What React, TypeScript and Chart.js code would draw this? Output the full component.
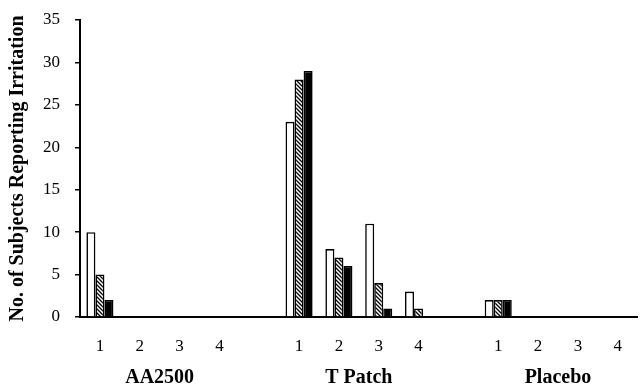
import React, { useEffect, useRef } from "react";
import { Chart, registerables } from "chart.js";

Chart.register(...registerables);

const groups = ["AA2500", "T Patch", "Placebo"];
const tickLabels = ["1", "2", "3", "4", "", "1", "2", "3", "4", "", "1", "2", "3", "4"];
const groupStarts = [0, 5, 10];
const seriesWhite = [10, 0, 0, 0, null, 23, 8, 11, 3, null, 2, 0, 0, 0];
const seriesHatched = [5, 0, 0, 0, null, 28, 7, 4, 1, null, 2, 0, 0, 0];
const seriesBlack = [2, 0, 0, 0, null, 29, 6, 1, 0, null, 2, 0, 0, 0];
const yTicks = [0, 5, 10, 15, 20, 25, 30, 35];
const yTitle = "No. of Subjects Reporting Irritation";

const FONT = "'Liberation Serif', 'DejaVu Serif', serif";

function makeHatch(): CanvasPattern | string {
  const c = document.createElement("canvas");
  c.width = 4;
  c.height = 4;
  const g = c.getContext("2d");
  if (!g) return "#888";
  g.fillStyle = "#fff";
  g.fillRect(0, 0, 4, 4);
  g.strokeStyle = "#000";
  g.lineWidth = 1.3;
  g.beginPath();
  g.moveTo(-1, -1);
  g.lineTo(5, 5);
  g.moveTo(-1, 3);
  g.lineTo(1, 5);
  g.moveTo(3, -1);
  g.lineTo(5, 1);
  g.stroke();
  const p = g.createPattern(c, "repeat");
  return p || "#888";
}

export default function App() {
  const ref = useRef<HTMLCanvasElement | null>(null);
  useEffect(() => {
    if (!ref.current) return;
    const hatch = makeHatch();
    const groupLabelPlugin = {
      id: "groupLabels",
      afterDraw(chart: any) {
        const ctx = chart.ctx;
        const xs = chart.scales.x;
        ctx.save();
        ctx.font = `bold 20px ${FONT}`;
        ctx.fillStyle = "#000";
        ctx.textAlign = "center";
        ctx.textBaseline = "middle";
        groups.forEach((g, i) => {
          const s = groupStarts[i];
          const x = (xs.getPixelForValue(s + 1) + xs.getPixelForValue(s + 2)) / 2;
          ctx.fillText(g, x, chart.chartArea.bottom + 61);
        });
        ctx.restore();
      },
    };
    const common = {
      borderColor: "#000",
      borderWidth: 1.6,
      barPercentage: 1,
      categoryPercentage: 0.68,
      skipNull: false,
    };
    const chart = new Chart(ref.current, {
      type: "bar",
      data: {
        labels: tickLabels,
        datasets: [
          { label: "a", data: seriesWhite, backgroundColor: "#fff", ...common },
          { label: "b", data: seriesHatched, backgroundColor: hatch as any, ...common },
          { label: "c", data: seriesBlack, backgroundColor: "#000", ...common },
        ],
      },
      options: {
        animation: false,
        responsive: false,
        maintainAspectRatio: false,
        layout: { padding: { top: 20, right: 1, left: 0, bottom: 0 } },
        plugins: { legend: { display: false }, tooltip: { enabled: false } },
        scales: {
          x: {
            grid: { display: false, drawTicks: false },
            border: { color: "#000", width: 2 },
            ticks: {
              color: "#000",
              font: { family: FONT, size: 17 },
              padding: 19,
              maxRotation: 0,
              autoSkip: false,
            },
            afterFit(scale: any) {
              scale.height = 70;
            },
          },
          y: {
            min: 0,
            max: 35,
            afterBuildTicks(scale: any) {
              scale.ticks = yTicks.map((v) => ({ value: v }));
            },
            grid: {
              drawOnChartArea: false,
              drawTicks: true,
              tickLength: 5,
              color: "#000",
              lineWidth: 1.5,
            },
            border: { color: "#000", width: 2 },
            ticks: {
              color: "#000",
              font: { family: FONT, size: 17 },
              padding: 15,
            },
            title: {
              display: true,
              text: yTitle,
              color: "#000",
              font: { family: FONT, size: 20, weight: "bold" },
              padding: { top: 6, bottom: 0 },
            },
            afterFit(scale: any) {
              scale.width = 80;
              scale.paddingTop = 10;
              scale.paddingBottom = 10;
            },
          },
        },
      },
      plugins: [groupLabelPlugin],
    });
    return () => chart.destroy();
  }, []);
  return (
    <div style={{ position: "absolute", left: 0, top: 0, width: 641, height: 387, background: "#fff" }}>
      <canvas ref={ref} width={641} height={387} style={{ display: "block" }} />
    </div>
  );
}
